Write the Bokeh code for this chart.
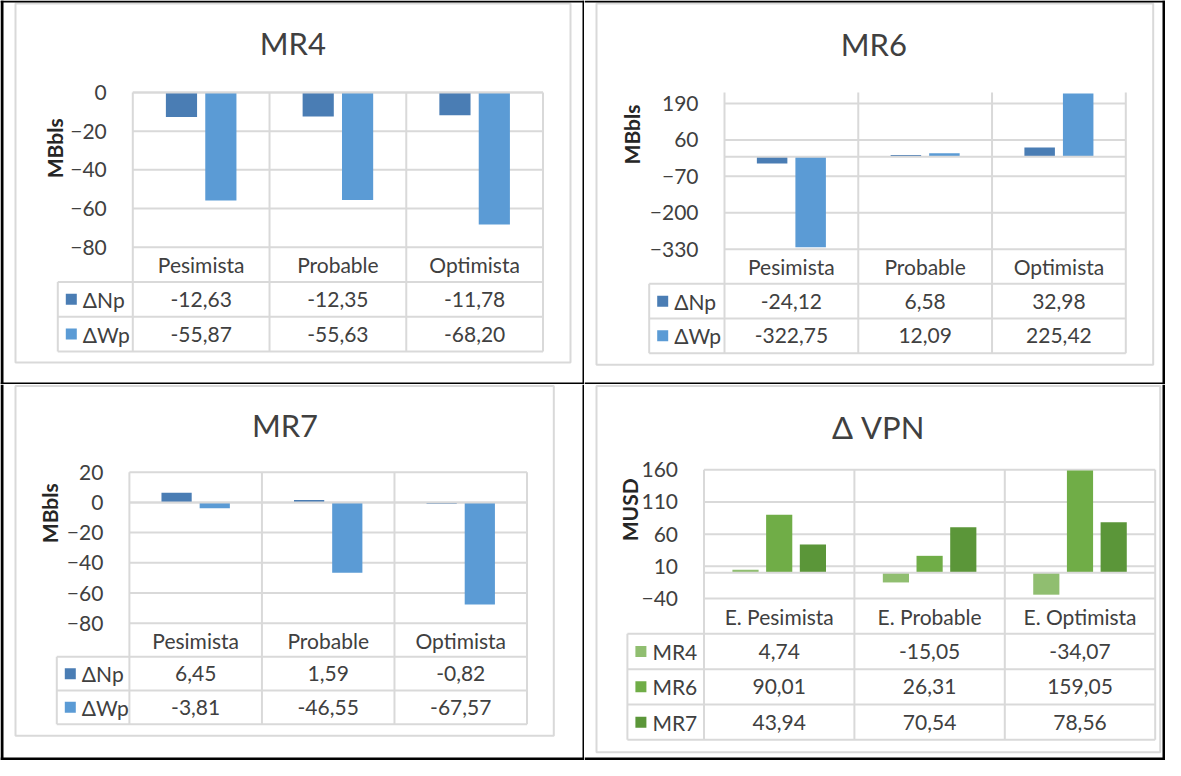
import numpy as np
from bokeh.plotting import figure
from bokeh.models import Range1d, LinearAxis, FixedTicker
from bokeh.layouts import row, column
from bokeh.embed import file_html
from bokeh.resources import INLINE
from bokeh.core.properties import value

# ---------------- data ----------------
scenarios = ["Pesimista", "Probable", "Optimista"]
vpn_scenarios = ["E. Pesimista", "E. Probable", "E. Optimista"]
prod_series = ["ΔNp", "ΔWp"]
mr4_dNp = [-12.63, -12.35, -11.78]
mr4_dWp = [-55.87, -55.63, -68.20]
mr6_dNp = [-24.12, 6.58, 32.98]
mr6_dWp = [-322.75, 12.09, 225.42]
mr7_dNp = [6.45, 1.59, -0.82]
mr7_dWp = [-3.81, -46.55, -67.57]
vpn_series = ["MR4", "MR6", "MR7"]
vpn_mr4 = [4.74, -15.05, -34.07]
vpn_mr6 = [90.01, 26.31, 159.05]
vpn_mr7 = [43.94, 70.54, 78.56]
mr4_ticks = [-80, -60, -40, -20, 0]
mr6_ticks = [-330, -200, -70, 60, 190]
mr7_ticks = [-80, -60, -40, -20, 0, 20]
vpn_ticks = [-40, 10, 60, 110, 160]

# ---------------- style ----------------
FONT = "Lato"
FS = "21px"
GRID = "#d9d9d9"
TXT = "#404040"
BLUE_D = "#4a7db4"
BLUE_L = "#5b9bd5"
GREEN_L = "#90be70"
GREEN_M = "#70ad47"
GREEN_D = "#5b9639"


def fmt(v):
    return f"{v:.2f}".replace(".", ",")


def panel(W, H, title, title_xy, ylabel, ylabel_xy, cats, names, series, colors,
          ticks, vtop, vbot, plot_l, plot_r, plot_t, plot_b, leg_l, tbl_b, box,
          offsets, barw, edges):
    p = figure(width=W, height=H, x_range=Range1d(0, W), y_range=Range1d(H, 0),
               x_axis_type=None, y_axis_type=None, toolbar_location=None,
               output_backend="svg", min_border=0, title=None,
               outline_line_color=None)
    p.background_fill_color = "white"
    p.border_fill_color = "white"
    n = len(cats)
    unit = (plot_r - plot_l) / n
    s = (plot_b - plot_t) / (vtop - vbot)
    nrows = len(names) + 1
    h = (tbl_b - plot_b) / nrows
    p.extra_x_ranges = {"cx": Range1d(-plot_l / unit, (W - plot_l) / unit)}
    p.extra_y_ranges = {
        "cy": Range1d(vtop - (H - plot_t) / s, vtop + plot_t / s),
        "ty": Range1d((H - plot_b) / h, -plot_b / h),
    }

    # chart area border
    p.quad(left=box[0], right=box[1], top=box[2], bottom=box[3],
           fill_color=None, line_color=GRID, line_width=2)

    # horizontal gridlines
    p.segment(x0=0, x1=n, y0=ticks, y1=ticks, x_range_name="cx", y_range_name="cy",
              line_color=GRID, line_width=2)
    # category separators through plot and table
    xs = list(range(n + 1))
    p.segment(x0=xs, x1=xs, y0=plot_t, y1=tbl_b, x_range_name="cx",
              line_color=GRID, line_width=2)
    # table row lines
    rb = list(range(1, nrows + 1))
    p.segment(x0=leg_l, x1=plot_r, y0=rb, y1=rb, y_range_name="ty",
              line_color=GRID, line_width=2)
    p.segment(x0=leg_l, x1=leg_l, y0=1, y1=nrows, y_range_name="ty",
              line_color=GRID, line_width=2)

    # bars
    centers = np.arange(n) + 0.5
    for vals, col, off in zip(series, colors, offsets):
        p.vbar(x=centers + off, top=vals, bottom=0, width=barw,
               x_range_name="cx", y_range_name="cy",
               fill_color=col, line_color=None)
    # horizontal axis line at zero
    p.segment(x0=0, x1=n, y0=0, y1=0, x_range_name="cx", y_range_name="cy",
              line_color=GRID, line_width=2)

    # y axis
    ax = LinearAxis(x_range_name="cx", y_range_name="cy", fixed_location=0,
                    ticker=FixedTicker(ticks=ticks), axis_line_color=None,
                    major_tick_line_color=None, minor_tick_line_color=None,
                    major_label_standoff=20,
                    major_label_text_font=FONT, major_label_text_font_size=FS,
                    major_label_text_color=TXT)
    p.add_layout(ax, "left")

    # category labels
    p.text(x=centers, y=0.5, text=cats, x_range_name="cx", y_range_name="ty",
           text_align="center", text_baseline="middle", text_font=value(FONT),
           text_font_size=FS, text_color=TXT)
    # table values
    for r, vals in enumerate(series):
        p.text(x=centers, y=r + 1.5, text=[fmt(v) for v in vals],
               x_range_name="cx", y_range_name="ty",
               text_align="center", text_baseline="middle", text_font=value(FONT),
               text_font_size=FS, text_color=TXT)
    # legend keys
    ry = list(np.arange(len(names)) + 1.5)
    p.scatter(x=leg_l + 13.5, y=ry, marker="square", size=11, fill_color=colors,
              line_color=None, y_range_name="ty")
    p.text(x=leg_l + 25, y=ry, text=names, y_range_name="ty",
           text_align="left", text_baseline="middle", text_font=value(FONT),
           text_font_size=FS, text_color=TXT)

    # title and axis title
    p.text(x=[title_xy[0]], y=[title_xy[1]], text=[title], text_align="center",
           text_baseline="middle", text_font=value(FONT), text_font_size="31px",
           text_color=TXT)
    p.text(x=[ylabel_xy[0]], y=[ylabel_xy[1]], text=[ylabel], angle=np.pi / 2,
           text_align="center", text_baseline="middle", text_font=value(FONT),
           text_font_size="21px", text_font_style="bold", text_color="#262626")

    # outer table (document) borders
    for x0, y0, x1, y1, w in edges:
        p.segment(x0=[x0], y0=[y0], x1=[x1], y1=[y1], line_color="black", line_width=w)
    return p


W1, W2, H1, H2 = 584, 581, 384, 376
off2 = [-0.144, 0.144]
off3 = [-0.224, 0.0, 0.224]

p1 = panel(W1, H1, "MR4", (292.4, 42), "MBbls", (54.4, 147.8), scenarios, prod_series,
           [mr4_dNp, mr4_dWp], [BLUE_D, BLUE_L], mr4_ticks, 0, -80,
           132.3, 542.5, 92, 246.7, 57.3, 351, (15, 570, 3, 362), off2, 0.228,
           [(1.5, 0, 1.5, H1, 3), (0, 1, W1, 1, 2), (583, 0, 583, H1, 2), (0, 383, W1, 383, 2)])

mr6_s = (248.7 - 103) / 520.0
mr6_top = 190 + (103 - 92) / mr6_s
p2 = panel(W2, H1, "MR6", (289.4, 43), "MBbls", (46.6, 134), scenarios, prod_series,
           [mr6_dNp, mr6_dWp], [BLUE_D, BLUE_L], mr6_ticks, mr6_top, -330,
           140, 541.3, 92, 248.7, 64.7, 352.7, (12, 568.7, 3, 364.3), off2, 0.228,
           [(0, 1, W2, 1, 2), (579.5, 0, 579.5, H1, 3), (0, 383, W2, 383, 2)])

p3 = panel(W1, H2, "MR7", (284.5, 40.3), "MBbls", (48.6, 128.7), scenarios, prod_series,
           [mr7_dNp, mr7_dWp], [BLUE_D, BLUE_L], mr7_ticks, 20, -80,
           128.9, 526.5, 87.7, 238.7, 56.3, 339.7, (15, 553.3, 1.5, 351.3), off2, 0.228,
           [(1.5, 0, 1.5, H2, 3), (583, 0, 583, H2, 2), (0, 374.5, W1, 374.5, 3)])

p4 = panel(W2, H2, "Δ VPN", (293.7, 42), "MUSD", (44.8, 125.3), vpn_scenarios, vpn_series,
           [vpn_mr4, vpn_mr6, vpn_mr7], [GREEN_L, GREEN_M, GREEN_D], vpn_ticks, 160, -40,
           119.5, 570.7, 85.3, 214, 42.9, 355.3, (12, 575.7, 1.5, 367.7), off3, 0.174,
           [(579.5, 0, 579.5, H2, 3), (0, 374.5, W2, 374.5, 3)])

layout = column(row(p1, p2), row(p3, p4))
open("out.html", "w").write(file_html(layout, INLINE))
